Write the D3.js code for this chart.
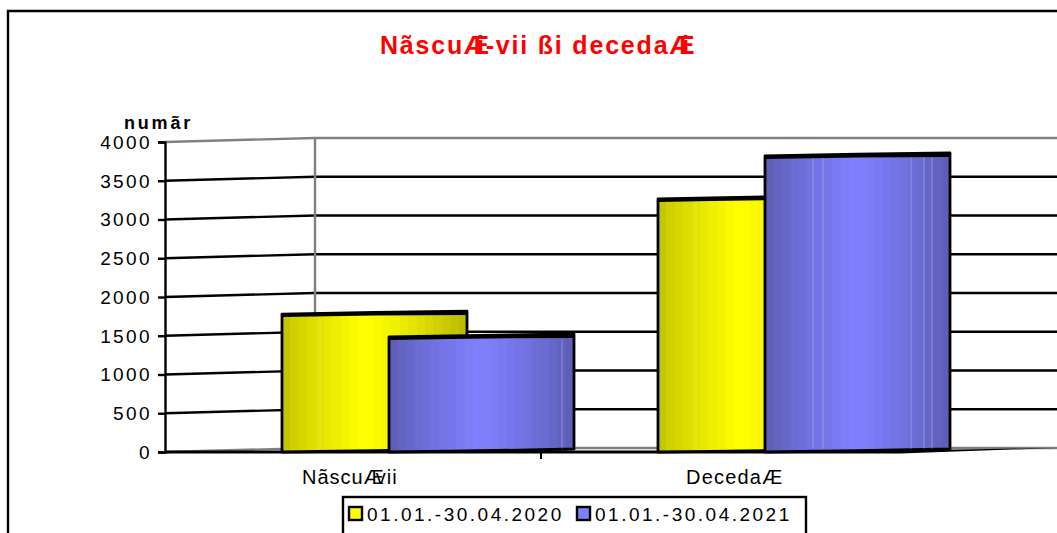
<!DOCTYPE html>
<html>
<head>
<meta charset="utf-8">
<script src="https://cdn.jsdelivr.net/npm/d3@7"></script>
<style>
  html, body { margin: 0; padding: 0; background: #fff; overflow: hidden; }
  svg { display: block; font-family: "Liberation Sans", Arial, sans-serif; }
</style>
</head>
<body>
<svg id="chart" width="1057" height="533"></svg>
<script>
const categories = ["Născuți-vii", "Decedați"];
const seriesNames = ["01.01.-30.04.2020", "01.01.-30.04.2021"];
const values2020 = [1780, 3265];
const values2021 = [1484, 3820];
const yTicks = [0, 500, 1000, 1500, 2000, 2500, 3000, 3500, 4000];

const width = 1057, height = 533;
const depthX = 150, depthY = 4;   // fake 3d wall offset
const barOffset = [117, 224];     // bar start inside a category
const barWidth = 185;
const colors = [
    {edgeL: "#c6c600", mid: "#ffff00", edgeR: "#b4b400", peak: 0.42, key: "2020"},
    {edgeL: "#5e5eb6", mid: "#8080ff", edgeR: "#5a5ab0", peak: 0.46, key: "2021"}
];
// thin light seams in the bars, offsets from the bar's left edge
const seams2020 = [[38], [38, 103]];
const seams2021 = [[173], [48, 58, 146, 159, 167]];

const svg = d3.select("#chart");
const y = d3.scaleLinear().domain([0, 4000]).range([452, 142]);
const x = d3.scaleBand().domain(categories).range([165, 917]);
const defs = svg.append("defs");

// banded gradients, the original has visible steps
colors.forEach(c => {
    const grad = defs.append("linearGradient").attr("id", "bar" + c.key);
    const n = 22;
    d3.range(n).forEach(i => {
        const t = i / n, t2 = (i + 1) / n;
        const col = t < c.peak
            ? d3.interpolateRgb(c.edgeL, c.mid)(Math.pow(t / c.peak, 0.8))
            : d3.interpolateRgb(c.mid, c.edgeR)(Math.pow((t - c.peak) / (1 - c.peak), 1.3));
        grad.append("stop").attr("offset", t).attr("stop-color", col);
        grad.append("stop").attr("offset", t2).attr("stop-color", col);
    });
});

// frame
svg.append("path")
    .attr("d", `M8,${height}V11H${width}`)
    .attr("fill", "none").attr("stroke", "#000").attr("stroke-width", 2.4);

// title, the broken glyphs overlap in the source (dx per character)
svg.append("text")
    .attr("x", 380).attr("y", 54)
    .attr("fill", "#ff0000").attr("font-weight", "bold")
    .attr("font-size", 25).attr("letter-spacing", 1.8)
    .attr("dx", "0 0 0 0 0 0 -14 0 0 0 0 0 0 0 0 0 0 0 0 0 0 0 -14")
    .text("NãscuÆi-vii ßi decedaÆi");

// back wall and grid
const grid = svg.append("g").attr("fill", "none");
yTicks.filter(d => d > 0).forEach(d => {
    grid.append("path")
        .attr("d", `M${x.range()[0]},${y(d)}L${x.range()[0] + depthX},${y(d) - depthY}H${width}`)
        .attr("stroke", d === 4000 ? "#808080" : "#000")
        .attr("stroke-width", 2.4);
});
grid.append("path")
    .attr("d", `M${x.range()[0] + depthX},${y(4000) - depthY}V${y(0) - depthY}`)
    .attr("stroke", "#808080").attr("stroke-width", 2.4);
grid.append("path")
    .attr("d", `M${x.range()[0]},${y(0)}L${x.range()[0] + depthX},${y(0) - depthY}H${width}`)
    .attr("stroke", "#808080").attr("stroke-width", 2.4);
// floor front edge, thins out to the right
svg.append("path")
    .attr("d", `M165,${y(0) - 1.5}H900L${width},${y(0) - 4}L900,${y(0) + 1.5}H165Z`)
    .attr("fill", "#000");

// bars
function drawBar(cat, value, s, seams) {
    const x0 = x(cat) + barOffset[s], x1 = x0 + barWidth;
    const mid = x0 + barWidth / 2;
    const yt = y(value), yb = y(0);
    const g = svg.append("g");
    g.append("path")
        .attr("d", `M${x0},${yb}V${yt}Q${mid},${yt - 2} ${x1},${yt - 3}V${yb - 3}Q${mid},${yb - 1} ${x0},${yb}Z`)
        .attr("fill", `url(#bar${colors[s].key})`)
        .attr("stroke", "#000").attr("stroke-width", 2.8).attr("stroke-linejoin", "round");
    seams.forEach(o => {
        g.append("line")
            .attr("x1", x0 + o).attr("x2", x0 + o)
            .attr("y1", yt + 2).attr("y2", yb - 3)
            .attr("stroke", "#fff").attr("stroke-opacity", 0.28).attr("stroke-width", 1);
    });
    // thick top edge
    g.append("path")
        .attr("d", `M${x0},${yt}Q${mid},${yt - 2} ${x1},${yt - 3}V${yt + 1}Q${mid},${yt + 1} ${x0},${yt + 3}Z`)
        .attr("fill", "#000");
}
categories.forEach((c, i) => {
    drawBar(c, values2020[i], 0, seams2020[i]);
    drawBar(c, values2021[i], 1, seams2021[i]);
});

// y axis
const yAxis = d3.axisLeft(y).tickValues(yTicks).tickSize(7).tickPadding(6).tickFormat(d3.format("d"));
const gy = svg.append("g").attr("transform", "translate(165,0)").call(yAxis);
gy.select(".domain").attr("stroke", "#000").attr("stroke-width", 2.4);
gy.selectAll(".tick line").attr("stroke", "#000").attr("stroke-width", 2.4);
gy.selectAll(".tick text")
    .attr("font-family", "Liberation Sans, Arial, sans-serif")
    .attr("font-size", 19).attr("letter-spacing", 2.4).attr("fill", "#000")
    .attr("dy", "0.33em");

svg.append("text")
    .attr("x", 124).attr("y", 129)
    .attr("font-weight", "bold").attr("font-size", 18).attr("letter-spacing", 2.8)
    .text("numãr");

// x axis tick and labels
svg.append("path")
    .attr("d", `M${x(categories[1])},${y(0)}v7`)
    .attr("stroke", "#000").attr("stroke-width", 2);

svg.append("text")
    .attr("x", 302).attr("y", 484).attr("font-size", 20).attr("letter-spacing", 1)
    .attr("dx", "0 0 0 0 0 0 -9")
    .text("NãscuÆvii");

svg.append("text")
    .attr("x", 686).attr("y", 484).attr("font-size", 20).attr("letter-spacing", 1.2)
    .text("DecedaÆ");

// legend
svg.append("rect")
    .attr("x", 343).attr("y", 497).attr("width", 463).attr("height", 50)
    .attr("fill", "#fff").attr("stroke", "#000").attr("stroke-width", 2.4);
const legendX = [349, 577];
seriesNames.forEach((name, i) => {
    svg.append("rect")
        .attr("x", legendX[i]).attr("y", 507).attr("width", 13).attr("height", 13)
        .attr("fill", colors[i].mid).attr("stroke", "#000").attr("stroke-width", 2.4);
    svg.append("text")
        .attr("x", legendX[i] + 18).attr("y", 521)
        .attr("font-size", 19).attr("letter-spacing", 2.5)
        .text(name);
});
</script>
</body>
</html>
